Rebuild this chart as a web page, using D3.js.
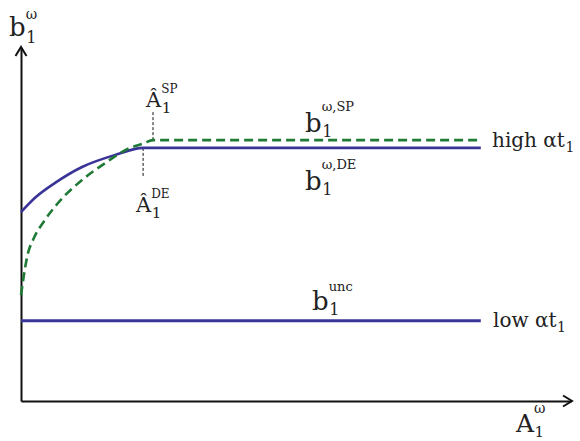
<!DOCTYPE html>
<html><head><meta charset="utf-8">
<script src="https://cdn.jsdelivr.net/npm/d3@7"></script>
<style>body{margin:0;background:#fff}</style>
</head><body>
<svg id="c" width="580" height="441"></svg>
<script>
// ---- data (abstract units, x: A1^ω, y: b1^ω) ----
const deCurveX = [0, 2.5, 6.2, 11.1, 17.1, 22.2, 83.6];
const deCurveY = [53.5, 57.5, 61.8, 66.3, 69.7, 71.7, 71.7];
const spCurveX = [0, 0.18, 1.27, 2.18, 4.36, 6.73, 11.1, 15.3, 19.8, 22.2, 24.0, 83.6];
const spCurveY = [30.0, 32.0, 41.9, 45.6, 51.3, 56.1, 62.6, 67.4, 71.7, 72.9, 73.9, 73.9];
const uncX = [0, 83.6];
const uncY = [22.7, 22.7];
const thresholdNames = ["SP", "DE"];
const thresholdX = [24.0, 22.2];
const thresholdY0 = [73.9, 71.7];
const thresholdY1 = [82.4, 63.5];

const FONT = "'DejaVu Serif', serif";
const svg = d3.select("#c");
const x = d3.scaleLinear().domain([0, 100]).range([21, 571]);
const y = d3.scaleLinear().domain([0, 100]).range([401, 48]);

const blue = "#3a3497", green = "#1f7a36";
const line = d3.line().x(d => x(d[0])).y(d => y(d[1])).curve(d3.curveMonotoneX);
const zip = (a, b) => a.map((v, i) => [v, b[i]]);

// axes (no ticks)
svg.append("g").attr("transform", `translate(0,${y(0)})`)
  .call(d3.axisBottom(x).tickValues([]).tickSizeOuter(0))
  .call(g => g.select(".domain").attr("stroke", "#111").attr("stroke-width", 2));
svg.append("g").attr("transform", `translate(${x(0)},0)`)
  .call(d3.axisLeft(y).tickValues([]).tickSizeOuter(0))
  .call(g => g.select(".domain").attr("stroke", "#111").attr("stroke-width", 2));
// arrowheads
svg.append("path").attr("d", `M${x(100)-8},${y(0)-5.5}L${x(100)+1},${y(0)}L${x(100)-8},${y(0)+5.5}`)
  .attr("fill", "none").attr("stroke", "#111").attr("stroke-width", 2);
svg.append("path").attr("d", `M${x(0)-5.5},${y(100)+8}L${x(0)},${y(100)-1}L${x(0)+5.5},${y(100)+8}`)
  .attr("fill", "none").attr("stroke", "#111").attr("stroke-width", 2);

// threshold dotted lines
thresholdX.forEach((tx, i) => {
  svg.append("line").attr("x1", x(tx)).attr("x2", x(tx))
    .attr("y1", y(thresholdY0[i])).attr("y2", y(thresholdY1[i]))
    .attr("stroke", "#111").attr("stroke-width", 1).attr("stroke-dasharray", "3,2");
});

// curves
svg.append("path").datum(zip(uncX, uncY)).attr("d", line)
  .attr("fill", "none").attr("stroke", blue).attr("stroke-width", 3);
svg.append("path").datum(zip(deCurveX, deCurveY)).attr("d", line)
  .attr("fill", "none").attr("stroke", blue).attr("stroke-width", 2.6);
svg.append("path").datum(zip(spCurveX, spCurveY)).attr("d", line)
  .attr("fill", "none").attr("stroke", green).attr("stroke-width", 2.6).attr("stroke-dasharray", "9,5");

function txt(px, py, fs, s) {
  return svg.append("text").attr("x", px).attr("y", py).attr("font-size", fs)
    .attr("font-family", FONT).attr("font-weight", 300).attr("fill", "#222").text(s);
}
// math-like labels
function mathLabel(px, py, base, sub, sup, fs, subFs, supFs, subDy, supDy) {
  const t = txt(px, py, fs, base);
  const w = t.node().getComputedTextLength();
  if (sub) txt(px + w + 0.5, py + subDy, subFs, sub);
  if (sup) txt(px + w, py + supDy, supFs, sup);
}
mathLabel(9, 36, "b", "1", "ω", 26, 16, 14, 7, -17);
mathLabel(146, 107, "Â", "1", "SP", 21, 15, 12, 6, -14);
mathLabel(136, 212, "Â", "1", "DE", 21, 15, 12, 6, -14);
mathLabel(305, 132, "b", "1", "ω,SP", 26, 16, 13, 5, -21);
mathLabel(305, 190, "b", "1", "ω,DE", 26, 16, 13, 5, -21);
mathLabel(312, 310, "b", "1", "unc", 26, 16, 13, 5, -19);
mathLabel(516, 432, "A", "1", "ω", 25, 15, 14, 5, -19);

function textLabel(px, py, main, sub) {
  const t = txt(px, py, 20, main);
  const w = t.node().getComputedTextLength();
  txt(px + w + 0.5, py + 5, 14, sub);
}
textLabel(492, 147, "high αt", "1");
textLabel(493, 327, "low αt", "1");
</script>
</body></html>
